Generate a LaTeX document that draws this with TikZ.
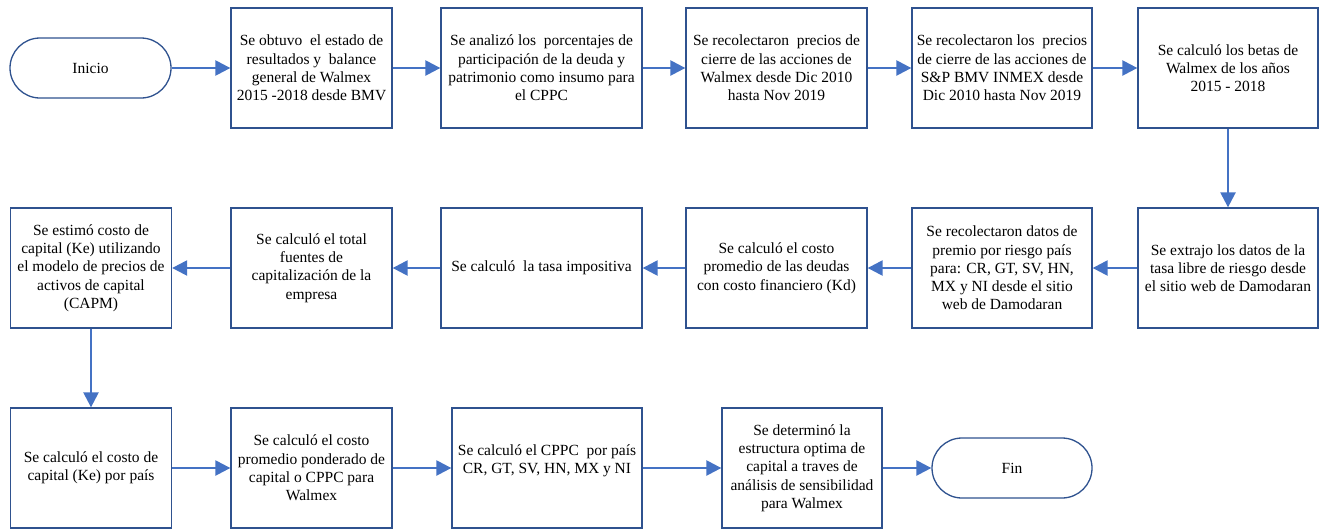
\documentclass[tikz,border=0pt]{standalone}
\usepackage{fontspec}
\setmainfont{Liberation Serif}
\usetikzlibrary{arrows.meta}
\definecolor{boxc}{HTML}{2F528F}
\definecolor{arrc}{HTML}{4472C4}
\begin{document}
\begin{tikzpicture}[x=1pt,y=-1pt,
  every node/.style={font=\fontsize{15.5}{18.3}\selectfont},
  procbox/.style={draw=boxc, line width=1.3pt, fill=white, align=center, inner sep=0pt, minimum height=120pt},
  termbox/.style={draw=boxc, line width=1.3pt, fill=white, align=center, inner sep=0pt, minimum height=60pt, rounded corners=30pt},
  flow/.style={draw=arrc, line width=2.4pt, -{Triangle[length=15pt,width=15pt]}}]
\useasboundingbox (0,0) rectangle (1324,528);
% row 1
\node[termbox, minimum width=161pt] (ini) at (90.5,68) {Inicio};
\node[procbox, minimum width=161pt] (b1) at (311.5,68) {Se obtuvo\ \ el estado de\\resultados y\ \ balance\\general de Walmex\\2015 -2018 desde BMV};
\node[procbox, minimum width=201pt] (b2) at (541.5,68) {Se analizó los\ \ porcentajes de\\participación de la deuda y\\patrimonio como insumo para\\el CPPC};
\node[procbox, minimum width=181pt] (b3) at (776.5,68) {Se recolectaron\ \ precios de\\cierre de las acciones de\\Walmex desde Dic 2010\\hasta Nov 2019};
\node[procbox, minimum width=180pt] (b4) at (1002,68) {Se recolectaron los\ \ precios\\de cierre de las acciones de\\S\&P BMV INMEX desde\\Dic 2010 hasta Nov 2019};
\node[procbox, minimum width=180pt] (b5) at (1228,68) {Se calculó los betas de\\Walmex de los años\\2015 - 2018};
% row 2
\node[procbox, minimum width=180pt] (f) at (1228,268) {Se extrajo los datos de la\\tasa libre de riesgo desde\\el sitio web de Damodaran};
\node[procbox, minimum width=180pt] (e) at (1002,268) {Se recolectaron datos de\\premio por riesgo país\\para: CR, GT, SV, HN,\\MX y NI desde el sitio\\web de Damodaran};
\node[procbox, minimum width=181pt] (d) at (776.5,268) {Se calculó el costo\\promedio de las deudas\\con costo financiero (Kd)};
\node[procbox, minimum width=201pt] (c) at (541.5,268) {Se calculó\ \ la tasa impositiva};
\node[procbox, minimum width=161pt] (b) at (311.5,268) {Se calculó el total\\fuentes de\\capitalización de la\\empresa};
\node[procbox, minimum width=161pt] (a) at (91,268) {Se estimó costo de\\capital (Ke) utilizando\\el modelo de precios de\\activos de capital\\(CAPM)};
% row 3
\node[procbox, minimum width=161pt] (g) at (91,468) {Se calculó el costo de\\capital (Ke) por país};
\node[procbox, minimum width=161pt] (h) at (311.5,468) {Se calculó el costo\\promedio ponderado de\\capital o CPPC para\\Walmex};
\node[procbox, minimum width=190pt] (i) at (547,468) {Se calculó el CPPC\ \ por país\\CR, GT, SV, HN, MX y NI\\~};
\node[procbox, minimum width=160pt] (j) at (802,468) {Se determinó la\\estructura optima de\\capital a traves de\\análisis de sensibilidad\\para Walmex};
\node[termbox, minimum width=160pt] (fin) at (1012,468) {Fin};
% connectors
\draw[flow] (ini) -- (b1);
\draw[flow] (b1) -- (b2);
\draw[flow] (b2) -- (b3);
\draw[flow] (b3) -- (b4);
\draw[flow] (b4) -- (b5);
\draw[flow] (b5) -- (f);
\draw[flow] (f) -- (e);
\draw[flow] (e) -- (d);
\draw[flow] (d) -- (c);
\draw[flow] (c) -- (b);
\draw[flow] (b) -- (a);
\draw[flow] (a) -- (g);
\draw[flow] (g) -- (h);
\draw[flow] (h) -- (i);
\draw[flow] (i) -- (j);
\draw[flow] (j) -- (fin);
\end{tikzpicture}
\end{document}
